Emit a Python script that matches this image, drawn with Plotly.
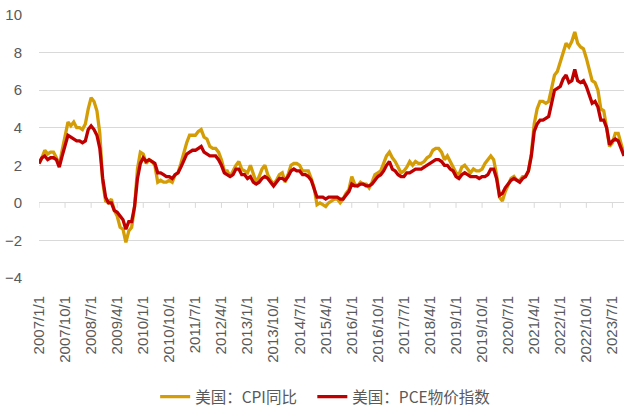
import plotly.graph_objects as go
import pandas as pd

# 美国 CPI 同比 (%), monthly 2007/1 - 2023/11
cpi_yoy = [
    2.1, 2.4, 2.8, 2.6, 2.7, 2.7, 2.4, 2.0, 2.8, 3.5, 4.3, 4.1,   # 2007
    4.3, 4.0, 4.0, 3.9, 4.2, 5.0, 5.6, 5.4, 4.9, 3.7, 1.1, 0.1,   # 2008
    0.0, 0.2, -0.4, -0.7, -1.3, -1.4, -2.1, -1.5, -1.3, -0.2, 1.8, 2.7,  # 2009
    2.6, 2.1, 2.3, 2.2, 2.0, 1.1, 1.2, 1.1, 1.1, 1.2, 1.1, 1.5,   # 2010
    1.6, 2.1, 2.7, 3.2, 3.6, 3.6, 3.6, 3.8, 3.9, 3.5, 3.4, 3.0,   # 2011
    2.9, 2.9, 2.7, 2.3, 1.7, 1.7, 1.4, 1.7, 2.0, 2.2, 1.8, 1.7,   # 2012
    1.6, 2.0, 1.5, 1.1, 1.4, 1.8, 2.0, 1.5, 1.2, 1.0, 1.2, 1.5,   # 2013
    1.6, 1.1, 1.5, 2.0, 2.1, 2.1, 2.0, 1.7, 1.7, 1.7, 1.3, 0.8,   # 2014
    -0.1, 0.0, -0.1, -0.2, 0.0, 0.1, 0.2, 0.2, 0.0, 0.2, 0.5, 0.7,  # 2015
    1.4, 1.0, 0.9, 1.1, 1.0, 1.0, 0.8, 1.1, 1.5, 1.6, 1.7, 2.1,   # 2016
    2.5, 2.7, 2.4, 2.2, 1.9, 1.6, 1.7, 1.9, 2.2, 2.0, 2.2, 2.1,   # 2017
    2.1, 2.2, 2.4, 2.5, 2.8, 2.9, 2.9, 2.7, 2.3, 2.5, 2.2, 1.9,   # 2018
    1.6, 1.5, 1.9, 2.0, 1.8, 1.6, 1.8, 1.7, 1.7, 1.8, 2.1, 2.3,   # 2019
    2.5, 2.3, 1.5, 0.3, 0.1, 0.6, 1.0, 1.3, 1.4, 1.2, 1.2, 1.4,   # 2020
    1.4, 1.7, 2.6, 4.2, 5.0, 5.4, 5.4, 5.3, 5.4, 6.2, 6.8, 7.0,   # 2021
    7.5, 7.9, 8.5, 8.3, 8.6, 9.1, 8.5, 8.3, 8.2, 7.7, 7.1, 6.5,   # 2022
    6.4, 6.0, 5.0, 4.9, 4.0, 3.0, 3.2, 3.7, 3.7, 3.1, 2.6,        # 2023
]

# 美国 PCE 物价指数 同比 (%)
pce_yoy = [
    2.1, 2.4, 2.5, 2.3, 2.4, 2.4, 2.3, 1.9, 2.5, 3.0, 3.6, 3.5,   # 2007
    3.4, 3.3, 3.3, 3.2, 3.3, 3.9, 4.1, 3.9, 3.6, 2.9, 1.3, 0.3,   # 2008
    0.0, 0.0, -0.4, -0.5, -0.7, -0.9, -1.4, -1.0, -1.0, -0.2, 1.3, 2.1,  # 2009
    2.4, 2.2, 2.3, 2.2, 2.1, 1.6, 1.6, 1.5, 1.4, 1.4, 1.3, 1.5,   # 2010
    1.6, 1.9, 2.3, 2.6, 2.7, 2.8, 2.8, 2.9, 3.0, 2.7, 2.6, 2.5,   # 2011
    2.5, 2.5, 2.3, 2.0, 1.6, 1.5, 1.4, 1.5, 1.8, 1.8, 1.5, 1.5,   # 2012
    1.3, 1.4, 1.1, 1.0, 1.1, 1.3, 1.4, 1.3, 1.1, 0.9, 1.1, 1.3,   # 2013
    1.3, 1.2, 1.4, 1.7, 1.8, 1.7, 1.7, 1.5, 1.5, 1.4, 1.2, 0.8,   # 2014
    0.3, 0.3, 0.3, 0.2, 0.3, 0.3, 0.3, 0.3, 0.2, 0.2, 0.4, 0.6,   # 2015
    1.0, 0.9, 0.9, 1.0, 1.0, 0.9, 0.9, 1.0, 1.2, 1.4, 1.5, 1.7,   # 2016
    2.0, 2.2, 1.8, 1.7, 1.5, 1.4, 1.4, 1.6, 1.6, 1.7, 1.8, 1.8,   # 2017
    1.8, 1.9, 2.0, 2.1, 2.2, 2.3, 2.3, 2.2, 2.0, 2.0, 1.8, 1.7,   # 2018
    1.4, 1.3, 1.5, 1.6, 1.5, 1.4, 1.4, 1.4, 1.3, 1.4, 1.4, 1.5,   # 2019
    1.8, 1.8, 1.3, 0.4, 0.5, 0.8, 1.0, 1.2, 1.3, 1.2, 1.1, 1.3,   # 2020
    1.4, 1.7, 2.5, 3.8, 4.2, 4.4, 4.4, 4.5, 4.6, 5.3, 6.0, 6.1,   # 2021
    6.2, 6.6, 6.8, 6.4, 6.5, 7.1, 6.5, 6.4, 6.5, 6.2, 5.7, 5.3,   # 2022
    5.4, 5.1, 4.4, 4.4, 4.0, 3.1, 3.3, 3.4, 3.3, 2.9, 2.5,        # 2023
]

series_names = ["美国：CPI同比", "美国：PCE物价指数"]
series_colors = ["#D49D06", "#C00000"]

months = pd.date_range("2007-01-01", periods=len(cpi_yoy), freq="MS")
dates = [f"{d.year}/{d.month}/{d.day}" for d in months]
tick_labels = dates[::9]

fig = go.Figure()
for i, (name, vals, color) in enumerate(zip(series_names, [cpi_yoy, pce_yoy], series_colors)):
    # pad the first legend entry a little so the gap between entries matches
    label = name + "\u00a0" * 3 if i == 0 else name
    fig.add_trace(go.Scatter(
        x=dates, y=vals, name=label, mode="lines",
        line=dict(color=color, width=3.3),
    ))

# small tick marks hanging from the zero line
for lab in tick_labels:
    fig.add_shape(
        type="line", xref="x", yref="y", x0=lab, x1=lab,
        ysizemode="pixel", yanchor=0, y0=0, y1=-5,
        line=dict(color="#D9D9D9", width=1), layer="below",
    )

tick_font = dict(family="Liberation Sans", size=15, color="#595959")

fig.update_layout(
    width=625, height=415,
    margin=dict(l=39, r=1, t=15, b=133),
    plot_bgcolor="white", paper_bgcolor="white",
    showlegend=True,
    legend=dict(
        orientation="h", x=0.49, xanchor="center", y=-0.453, yanchor="middle",
        font=dict(family="Noto Sans CJK SC", size=15.5, color="#595959"),
        itemwidth=30,
    ),
    xaxis=dict(
        type="category", range=[0, len(dates) - 1], automargin=False,
        tickmode="array", tickvals=tick_labels, ticktext=tick_labels,
        tickangle=-90, ticks="", ticklabelstandoff=14,
        showgrid=False, zeroline=False, showline=False,
        tickfont=tick_font,
    ),
    yaxis=dict(
        range=[-4, 10], dtick=2, tick0=0, automargin=False,
        showgrid=True, gridcolor="#D9D9D9", gridwidth=1,
        zeroline=False, showline=False, ticks="", ticklabelstandoff=16,
        tickfont=tick_font,
    ),
)

# drop the browser's default page margin so the figure sits at the corner
fig.write_html("out.html", config={"displayModeBar": False},
               post_script="document.body.style.margin='0';")
